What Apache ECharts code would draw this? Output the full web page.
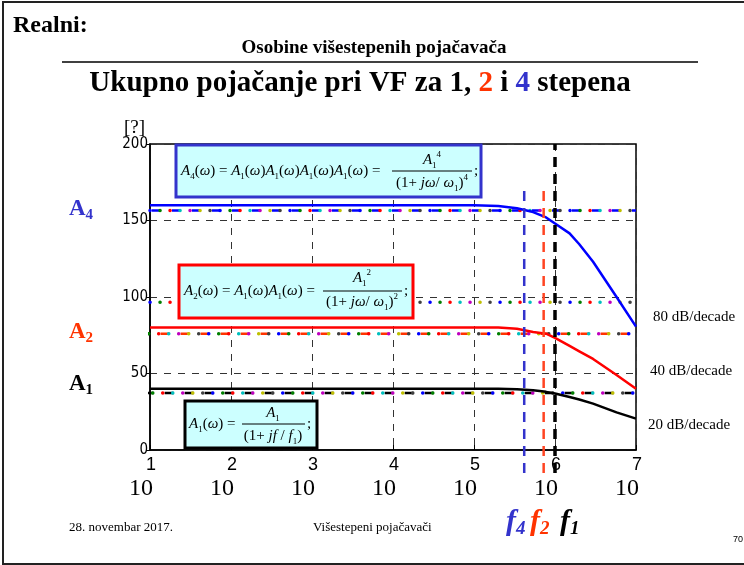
<!DOCTYPE html>
<html><head><meta charset="utf-8">
<script src="https://cdn.jsdelivr.net/npm/echarts@6/dist/echarts.min.js"></script>
<style>html,body{margin:0;padding:0;background:#fff}#c{width:744px;height:565px}</style>
</head><body><div id="c"></div><script>
// ---- data ----
const logFreq = [1, 2, 3, 4, 5, 5.3, 5.53, 5.73, 5.89, 6.0, 6.18, 6.3, 6.47, 6.76, 7];
const gainA1 = [40, 40, 40, 40, 40, 40, 39.7, 39, 38, 36.9, 34.6, 33, 30.3, 24.6, 20.5];
const gainA2 = [80, 80, 80, 80, 80, 80, 79.3, 77.1, 76, 73.3, 68, 64.5, 59.5, 49, 40];
const gainA4 = [160, 160, 160, 160, 160, 159.5, 158, 155.5, 152, 148, 141.6, 134.5, 123, 100, 80.6];
const xTicks = [1, 2, 3, 4, 5, 6, 7];
const yTicks = [0, 50, 100, 150, 200];
const refLevels = [156.5, 96.6, 76, 37.2];
const refStart = [1, 1, 0.86, 0.91];
const refDashColor = ['#0000ff', null, '#ff3300', '#000000'];
const dotColors = ['#0000ff', '#008000', '#ff0000', '#00bfbf', '#bf00bf', '#bfbf00', '#404040'];
const cornerFreq = [5.62, 5.86, 6.0];          // f4, f2, f1 (log10)
const cornerTop = [172, 173, 200];
const cornerColor = ['#3333cc', '#ff4422', '#000000'];
const slopeLabels = ['80 dB/decade', '40 dB/decade', '20 dB/decade'];

const zip = (xs, ys) => xs.map((x, i) => [x, ys[i]]);

const series = [];
// reference dotted lines
refLevels.forEach((lv, k) => {
  const d = [[refStart[k], lv], [7, lv]];
  if (refDashColor[k]) {
    series.push({type: 'line', data: d, showSymbol: false, clip: false, silent: true, z: 3,
      lineStyle: {color: refDashColor[k], width: 2.5, type: [9, 11], dashOffset: -2}});
  }
  dotColors.forEach((c, j) => {
    series.push({type: 'line', data: d, showSymbol: false, clip: false, silent: true, z: 4,
      lineStyle: {color: c, width: 3.5, type: [0.1, 69.9], dashOffset: -(j * 10), cap: 'round'}});
  });
});
// curves
[[gainA1, '#000000'], [gainA2, '#ff0000'], [gainA4, '#0000ff']].forEach(([g, c]) => {
  series.push({type: 'line', data: zip(logFreq, g), showSymbol: false, smooth: false, z: 6,
    lineStyle: {color: c, width: 2.5, join: 'round'}});
});
// corner frequency verticals
cornerFreq.forEach((f, k) => {
  series.push({type: 'line', data: [[f, -15], [f, cornerTop[k]]], showSymbol: false, clip: false, z: 7,
    lineStyle: {color: cornerColor[k], width: k === 2 ? 3.5 : 2.5, type: [10, 7]}});
});

const serif = 'Liberation Serif, Times New Roman, serif';
function A(sub) { return `{i|A}{s|${sub}}{r|(}{i|ω}{r|)}`; }
const eqRich = {
  i: {fontFamily: serif, fontStyle: 'italic', fontSize: 15, lineHeight: 20, fill: '#000'},
  r: {fontFamily: serif, fontSize: 15, lineHeight: 20, fill: '#000'},
  s: {fontFamily: serif, fontSize: 9, verticalAlign: 'bottom', fill: '#000'},
  p: {fontFamily: serif, fontSize: 9, verticalAlign: 'top', fill: '#000'}
};
function T(x, y, text, align, rich) {
  return {type: 'text', x, y, z: 110,
    style: {text, rich: rich || eqRich, align: align || 'left', verticalAlign: 'middle'}};
}
function P(x, y, text, font, align) {
  return {type: 'text', x, y, z: 110, style: {text, font, fill: '#000', align: align || 'left', verticalAlign: 'middle'}};
}
function L(x1, x2, y, w, c) {
  return {type: 'line', z: 110, shape: {x1, y1: y, x2, y2: y}, style: {stroke: c || '#000', lineWidth: w || 1}};
}
function R(x, y, w, h, c) {
  return {type: 'rect', z: 105, shape: {x, y, width: w, height: h}, style: {fill: '#ccffff', stroke: c, lineWidth: 3}};
}
const graphics = [
  {type: 'rect', z: 1, shape: {x: 3, y: 2, width: 800, height: 562}, style: {fill: 'none', stroke: '#222', lineWidth: 2}},
  P(13, 26, 'Realni:', 'bold 24px ' + serif),
  P(374, 48, 'Osobine višestepenih pojačavača', 'bold 19px ' + serif, 'center'),
  L(62, 698, 62, 1.5),
  T(360, 84, '{a|Ukupno pojačanje pri VF za 1, }{r|2}{a| i }{b|4}{a| stepena}', 'center', {
    a: {fontFamily: serif, fontWeight: 'bold', fontSize: 29, fill: '#000'},
    r: {fontFamily: serif, fontWeight: 'bold', fontSize: 29, fill: '#ff3300'},
    b: {fontFamily: serif, fontWeight: 'bold', fontSize: 29, fill: '#3333cc'}}),
  P(124, 128, '[?]', '19px ' + serif),
  // equation boxes
  R(176, 145, 305, 52, '#3333cc'),
  T(181, 171, A('4') + '{r| = }' + A('1') + A('1') + A('1') + A('1') + '{r| =}'),
  L(392, 472, 171, 1),
  T(432, 160, '{i|A}{s|1}{p|4}', 'center'),
  T(432, 183, '{r|(1+ }{i|jω}{r|/ }{i|ω}{s|1}{r|)}{p|4}', 'center'),
  T(474, 171, '{r|;}'),
  R(179, 265, 234, 53, '#ff0000'),
  T(184, 291, A('2') + '{r| = }' + A('1') + A('1') + '{r| =}'),
  L(323, 402, 291, 1),
  T(362, 278, '{i|A}{s|1}{p|2}', 'center'),
  T(362, 302, '{r|(1+ }{i|jω}{r|/ }{i|ω}{s|1}{r|)}{p|2}', 'center'),
  T(404, 291, '{r|;}'),
  R(185, 401, 132, 47, '#000000'),
  T(189, 424, A('1') + '{r| =}'),
  L(242, 305, 424, 1),
  T(273, 413, '{i|A}{s|1}', 'center'),
  T(273, 436, '{r|(1+ }{i|jf}{r| / }{i|f}{s|1}{r|)}', 'center'),
  T(307, 424, '{r|;}'),
];
// left gain labels
[['4', '#3333cc', 209], ['2', '#ff3300', 332], ['1', '#000000', 384]].forEach(([s, c, y]) => {
  graphics.push(T(69, y, `{b|A}{s|${s}}`, 'left', {
    b: {fontFamily: serif, fontWeight: 'bold', fontSize: 23, lineHeight: 28, fill: c},
    s: {fontFamily: serif, fontWeight: 'bold', fontSize: 15, verticalAlign: 'bottom', fill: c}}));
});
// corner frequency labels
[['4', '#3333cc', 506], ['2', '#ff3300', 530], ['1', '#000000', 560]].forEach(([s, c, x]) => {
  graphics.push(T(x, 522, `{f|f}{s|${s}}`, 'left', {
    f: {fontFamily: serif, fontWeight: 'bold', fontStyle: 'italic', fontSize: 30, lineHeight: 34, fill: c},
    s: {fontFamily: serif, fontWeight: 'bold', fontStyle: 'italic', fontSize: 19, verticalAlign: 'bottom', fill: c}}));
});
// slope labels
[[653, 317], [650, 371], [648, 425]].forEach(([x, y], k) => {
  graphics.push(P(x, y, slopeLabels[k], '15px ' + serif));
});
graphics.push(P(69, 528, '28. novembar 2017.', '13px ' + serif));
graphics.push(P(313, 528, 'Višestepeni pojačavači', '13px ' + serif));
graphics.push(P(733, 540, '70', '9px Liberation Sans, Arial, sans-serif'));

const chart = echarts.init(document.getElementById('c'), null, {renderer: 'canvas'});
chart.setOption({
  animation: false,
  backgroundColor: '#fff',
  grid: {left: 150, right: 108, top: 144, bottom: 115, show: true, borderColor: '#000', borderWidth: 1.5},
  xAxis: {
    type: 'value', min: xTicks[0], max: xTicks[xTicks.length - 1], interval: 1,
    axisLine: {show: true, lineStyle: {color: '#000', width: 1.5}},
    axisTick: {show: true, inside: true, length: 5, lineStyle: {color: '#000'}},
    splitLine: {show: true, lineStyle: {color: '#333', width: 1, type: [7, 7]}},
    axisLabel: {
      margin: 5, showMinLabel: true, showMaxLabel: true,
      formatter: v => `{e|${v}}\n{t|10}`,
      rich: {
        e: {fontFamily: 'Liberation Sans, Arial, sans-serif', fontSize: 18, lineHeight: 20, color: '#000', padding: [0, 0, 0, 2]},
        t: {fontFamily: serif, fontSize: 24, lineHeight: 28, color: '#000', padding: [0, 18, 0, 0]}
      }
    }
  },
  yAxis: {
    type: 'value', min: yTicks[0], max: yTicks[yTicks.length - 1], interval: 50,
    axisLine: {show: true, lineStyle: {color: '#000', width: 1.5}},
    axisTick: {show: true, length: 4, lineStyle: {color: '#000'}},
    splitLine: {show: true, lineStyle: {color: '#333', width: 1, type: [7, 7]}},
    axisLabel: {margin: 2, color: '#000', fontSize: 15,
      fontFamily: 'Liberation Sans Narrow, DejaVu Sans Condensed, Arial Narrow, sans-serif'}
  },
  series,
  graphic: graphics
});
</script></body></html>
